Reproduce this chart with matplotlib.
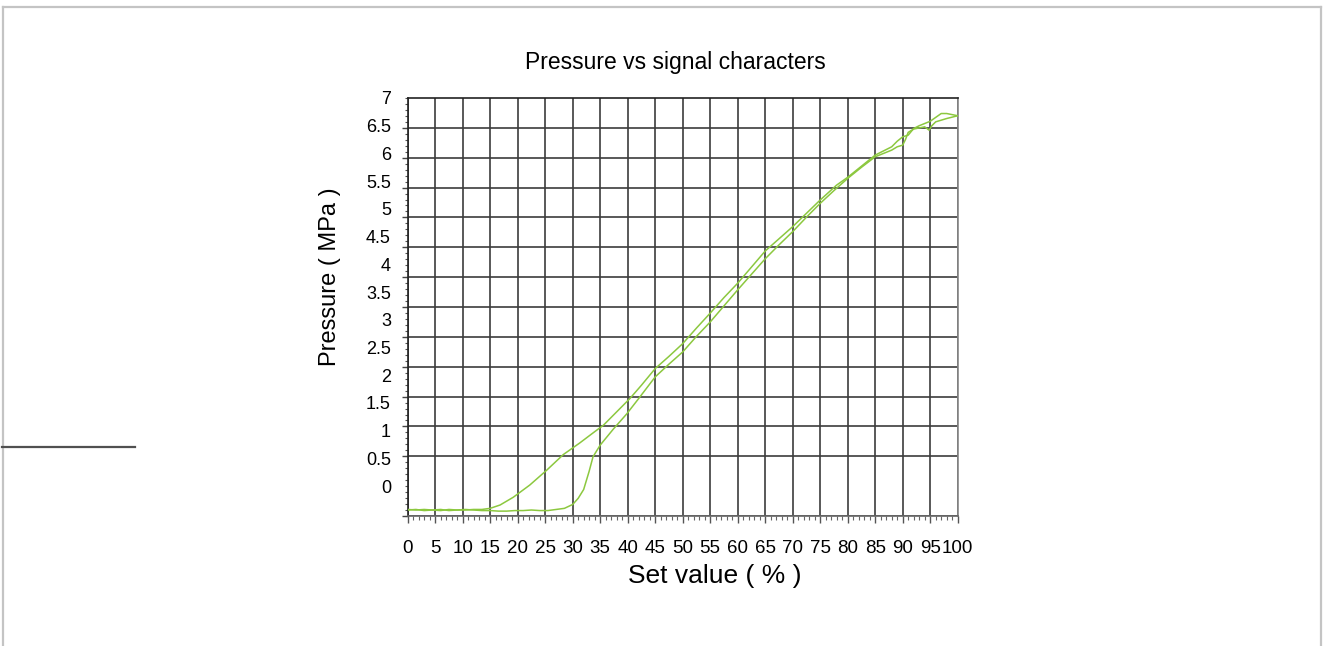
import matplotlib
matplotlib.use('Agg')
import matplotlib.pyplot as plt
import numpy as np
from matplotlib.lines import Line2D
from matplotlib.ticker import FixedLocator, MultipleLocator

# ---------------- data ----------------
title = "Pressure vs signal characters"
x_label = "Set value ( % )"
y_label = "Pressure ( MPa )"

# rising branch (lower / right curve)
set_up = [0, 1.5, 3, 4.5, 6, 7.5, 9, 10.5, 12, 13.5, 15, 16.5, 18, 19.5, 21,
          22.5, 24, 25.5, 27, 28.5, 30, 31, 32, 33, 33.7, 35, 37.4, 39.8, 42,
          45, 47.5, 50, 52.5, 55, 57.5, 60, 62.5, 65, 67.5, 70, 72.5, 75, 77.5,
          80, 82.5, 85, 88, 89, 90, 90.5, 91, 92, 93, 94, 94.8, 95.3, 96, 97,
          98, 100]
p_up = [-0.43, -0.42, -0.44, -0.43, -0.42, -0.44, -0.43, -0.42, -0.43, -0.44,
        -0.44, -0.45, -0.45, -0.44, -0.44, -0.43, -0.44, -0.44, -0.42, -0.40,
        -0.33, -0.22, -0.06, 0.27, 0.53, 0.74, 1.03, 1.30, 1.58, 1.97, 2.20,
        2.42, 2.70, 2.96, 3.25, 3.54, 3.82, 4.10, 4.35, 4.59, 4.85, 5.10, 5.33,
        5.55, 5.75, 5.94, 6.06, 6.12, 6.15, 6.25, 6.38, 6.44, 6.46, 6.48, 6.42,
        6.50, 6.57, 6.60, 6.63, 6.68]

# falling branch (upper / left curve)
set_down = [0, 1.5, 3, 4.5, 6, 7.5, 9, 10.5, 12, 13.5, 15, 16.8, 19.2, 22.2,
            25.3, 28.3, 31.3, 33.7, 35.6, 38, 40.4, 42.5, 45, 47.5, 50, 52.5,
            55, 57.5, 60, 62.5, 65, 67.5, 70, 72.5, 75, 78, 80, 82.5, 85, 88,
            89, 90, 91, 92, 93, 94, 95, 96, 97, 98, 99, 100]
p_down = [-0.42, -0.43, -0.42, -0.43, -0.44, -0.42, -0.43, -0.43, -0.42, -0.42,
          -0.40, -0.34, -0.20, 0.02, 0.29, 0.57, 0.78, 0.96, 1.10, 1.34, 1.58,
          1.82, 2.12, 2.34, 2.57, 2.85, 3.12, 3.40, 3.66, 3.95, 4.24, 4.46,
          4.68, 4.92, 5.16, 5.43, 5.57, 5.77, 5.97, 6.12, 6.22, 6.30, 6.33,
          6.45, 6.50, 6.54, 6.58, 6.65, 6.72, 6.72, 6.70, 6.68]

y_tick_values = [0, 0.5, 1, 1.5, 2, 2.5, 3, 3.5, 4, 4.5, 5, 5.5, 6, 6.5, 7]
y_tick_labels = ["0", "0.5", "1", "1.5", "2", "2.5", "3", "3.5", "4", "4.5",
                 "5", "5.5", "6", "6.5", "7"]
x_tick_values = list(range(0, 101, 5))
x_tick_labels = [str(v) for v in x_tick_values]

# ---------------- figure ----------------
plt.rcParams['font.family'] = ['Liberation Sans', 'DejaVu Sans']
fig = plt.figure(figsize=(13.27, 6.46), dpi=100)
ax = fig.add_axes([0.3072, 0.2012, 0.4145, 0.6471])

line_color = '#8cc83f'
ax.plot(set_up, p_up, color=line_color, lw=1.1, zorder=3)
ax.plot(set_down, p_down, color=line_color, lw=1.1, zorder=3)

ybot = -7 / 13
ax.set_xlim(0, 100)
ax.set_ylim(ybot, 7)

grid_col = '#3c3c3c'
# x axis
ax.set_xticks(x_tick_values)
ax.set_xticklabels(x_tick_labels, fontsize=13.5)
ax.xaxis.set_minor_locator(MultipleLocator(1))
ax.tick_params(axis='x', which='major', length=5, width=1, color='#555555',
               pad=12, direction='out')
ax.tick_params(axis='x', which='minor', length=3, width=0.8, color='#666666',
               direction='out')
ax.grid(True, which='major', axis='x', color=grid_col, lw=1.2)

# y axis: labels on major ticks, grid lines on minor ticks
grid_y = np.linspace(ybot, 7, 15)
ax.yaxis.set_major_locator(FixedLocator(y_tick_values))
ax.set_yticklabels(y_tick_labels, fontsize=13)
ax.yaxis.set_minor_locator(FixedLocator(list(grid_y)))
ax.tick_params(axis='y', which='major', length=0, pad=12)
ax.tick_params(axis='y', which='minor', length=4, width=1, color='#444444',
               direction='out')
ax.grid(True, which='minor', axis='y', color=grid_col, lw=1.2)
ax.grid(False, which='major', axis='y')

sec = ax.secondary_yaxis('left')
sec.yaxis.set_major_locator(FixedLocator(list(np.linspace(ybot, 7, 14 * 5 + 1))))
sec.tick_params(length=2.5, width=0.8, color='#555555', labelleft=False)
sec.spines['left'].set_visible(False)

for side, col in [('left', '#222222'), ('top', '#222222'),
                  ('right', '#888888'), ('bottom', '#666666')]:
    ax.spines[side].set_color(col)
    ax.spines[side].set_linewidth(1.2)

ax.set_title(title, fontsize=16.5, x=0.486, y=1.086, va='center', pad=0)
ax.set_xlabel(x_label, fontsize=19)
ax.xaxis.set_label_coords(0.559, -0.1435)
ax.xaxis.label.set_va('center')
ax.set_ylabel(y_label, fontsize=17)
ax.yaxis.set_label_coords(-0.141, 0.572)
ax.yaxis.label.set_va('center')

# page frame decorations
W, H = 1327.0, 646.0
frame_col = '#c4c4c4'
fig.add_artist(Line2D([3 / W, 1321 / W], [1 - 7 / H, 1 - 7 / H], transform=fig.transFigure,
                      color=frame_col, lw=1.6))
fig.add_artist(Line2D([3 / W, 3 / W], [0, 1 - 7 / H], transform=fig.transFigure,
                      color=frame_col, lw=1.6))
fig.add_artist(Line2D([1321 / W, 1321 / W], [0, 1 - 7 / H], transform=fig.transFigure,
                      color=frame_col, lw=1.6))
fig.add_artist(Line2D([2 / W, 135 / W], [1 - 447 / H, 1 - 447 / H], transform=fig.transFigure,
                      color='#505050', lw=1.6))

fig.savefig('out.png', dpi=100)
